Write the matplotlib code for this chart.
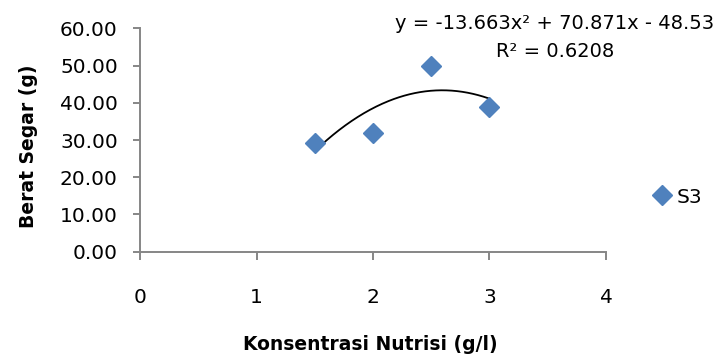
import matplotlib
matplotlib.use("Agg")
import matplotlib.pyplot as plt
import numpy as np

# data
konsentrasi = [1.5, 2.0, 2.5, 3.0]
berat_segar = [29.2, 32.0, 49.9, 39.0]
series_name = "S3"
# trendline coefficients as printed on the chart
trend_coef = [-13.663, 70.871, -48.53]
r_squared = 0.6208
x_ticks = [0, 1, 2, 3, 4]
y_ticks = [0, 10, 20, 30, 40, 50, 60]

plt.rcParams["font.family"] = ["DejaVu Sans"]
axis_grey = "#868686"
blue = "#4F81BD"


def draw_chart():
    """scatter with polynomial trendline"""
    fig = plt.figure(figsize=(7.18, 3.6), dpi=100)
    ax = fig.add_axes([0.195, 0.301, 0.649, 0.620])

    ax.plot(konsentrasi, berat_segar, linestyle="none", marker="D",
            markersize=10.5, color=blue, label=series_name, zorder=3)

    xs = np.linspace(min(konsentrasi), max(konsentrasi), 200)
    ax.plot(xs, np.polyval(trend_coef, xs), color="black", lw=1.3, zorder=2)

    ax.set_xlim(0, 4)
    ax.set_ylim(0, 60)
    ax.set_xticks(x_ticks)
    ax.set_yticks(y_ticks)
    ax.set_xticklabels([str(t) for t in x_ticks])
    ax.set_yticklabels(["%.2f" % t for t in y_ticks])

    for side in ["top", "right"]:
        ax.spines[side].set_visible(False)
    for side in ["left", "bottom"]:
        ax.spines[side].set_color(axis_grey)
        ax.spines[side].set_linewidth(1.4)
    ax.tick_params(axis="x", direction="out", length=6, width=1.4,
                   color=axis_grey, pad=20, labelsize=14.5)
    ax.tick_params(axis="y", direction="out", length=5, width=1.4,
                   color=axis_grey, pad=11, labelsize=14.5)

    ax.set_xlabel("Konsentrasi Nutrisi (g/l)", fontsize=13.5, fontweight="bold")
    ax.set_ylabel("Berat Segar (g)", fontsize=13.5, fontweight="bold")
    ax.xaxis.set_label_coords(0.494, -0.375)
    ax.yaxis.set_label_coords(-0.219, 0.47)

    eq = "y = %.3fx\u00b2 + %.3fx - %.2f\nR\u00b2 = %.4f" % (
        trend_coef[0], trend_coef[1], -trend_coef[2], r_squared)
    fig.text(555 / 718, 1 - 37.5 / 360, eq, ha="center", va="center",
             multialignment="center", fontsize=14.0, linespacing=1.65)

    fig.legend(loc="center left", bbox_to_anchor=(652 / 718, 1 - 197 / 360),
               frameon=False, fontsize=14.5, handletextpad=0.2,
               handlelength=1.0, borderpad=0, borderaxespad=0)

    fig.savefig("out.png", dpi=100)


def main():
    draw_chart()
    return


if __name__ == '__main__':
    main()
